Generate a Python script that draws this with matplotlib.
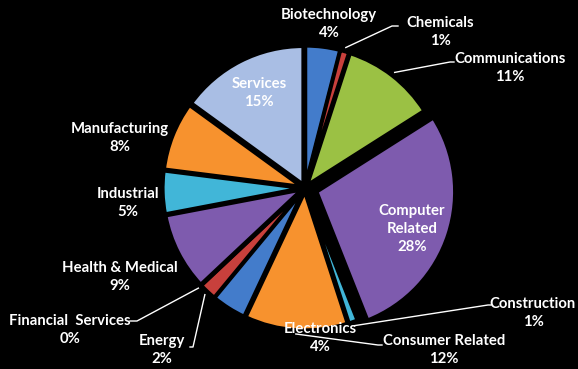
import matplotlib
matplotlib.use('Agg')
import matplotlib.pyplot as plt
import numpy as np

# data (percent)
sectors = ['Biotechnology', 'Chemicals', 'Communications', 'Computer\nRelated',
           'Construction', 'Consumer Related', 'Electronics', 'Energy',
           'Financial  Services', 'Health & Medical', 'Industrial',
           'Manufacturing', 'Services']
shares = [4, 1, 11, 28, 1, 12, 4, 2, 0, 9, 5, 8, 15]

colors = ['#437CCB', '#C8403C', '#9BC144', '#7E5BAE', '#41B6D8', '#F7922E',
          '#437CCB', '#C8403C', '#9BC144', '#7E5BAE', '#41B6D8', '#F7922E',
          '#A9BEE4']
explode = [0.03] * len(shares)
explode[3] = 0.09

# layout: label centres in pixels (x from left, y from top), and leader elbows
label_px = {
    'Biotechnology': (329, 24), 'Chemicals': (440, 32),
    'Communications': (510, 68), 'Computer\nRelated': (412, 229),
    'Construction': (533, 313), 'Consumer Related': (444, 350),
    'Electronics': (320, 338), 'Energy': (162, 350),
    'Financial  Services': (70, 330), 'Health & Medical': (120, 277),
    'Industrial': (128, 203), 'Manufacturing': (120, 138),
    'Services': (259, 93),
}
leaders = {  # elbow points in pixels
    'Chemicals': [(392, 26), (398, 26)],
    'Communications': [(450, 62), (454, 62)],
    'Construction': [(488, 305), (491, 305)],
    'Consumer Related': [(378, 345), (382, 345)],
    'Energy': [(193, 347), (190, 347)],
    'Financial  Services': [(137, 321), (130, 321)],
}

W, H = 578, 369
CX, CY, R = 305, 188, 138


def px2d(p):
    return ((p[0] - CX) / R, (CY - p[1]) / R)


fig = plt.figure(figsize=(W / 100, H / 100), dpi=100, facecolor='black')
ax = fig.add_axes([0, 0, 1, 1])
ax.set_facecolor('black')

wedges, _ = ax.pie(shares, colors=colors, explode=explode, startangle=90,
                   counterclock=False, radius=1.0,
                   wedgeprops=dict(edgecolor='black', linewidth=2.5))

ax.set_xlim(-CX / R, (W - CX) / R)
ax.set_ylim(-(H - CY) / R, CY / R)
ax.set_aspect('equal')
ax.axis('off')

for i, name in enumerate(sectors):
    lx, ly = px2d(label_px[name])
    ax.text(lx, ly, '%s\n%d%%' % (name, shares[i]), ha='center', va='center',
            color='white', fontsize=10.7, fontweight='bold', family='Lato',
            linespacing=1.35)
    if name in leaders:
        w = wedges[i]
        ang = np.deg2rad((w.theta1 + w.theta2) / 2)
        ox, oy = w.center
        ax_ = ox + 1.03 * np.cos(ang)
        ay_ = oy + 1.03 * np.sin(ang)
        pts = [(ax_, ay_)] + [px2d(p) for p in leaders[name]]
        xs = [p[0] for p in pts]
        ys = [p[1] for p in pts]
        ax.plot(xs, ys, color='white', linewidth=1)

fig.savefig('out.png', dpi=100, facecolor='black')
